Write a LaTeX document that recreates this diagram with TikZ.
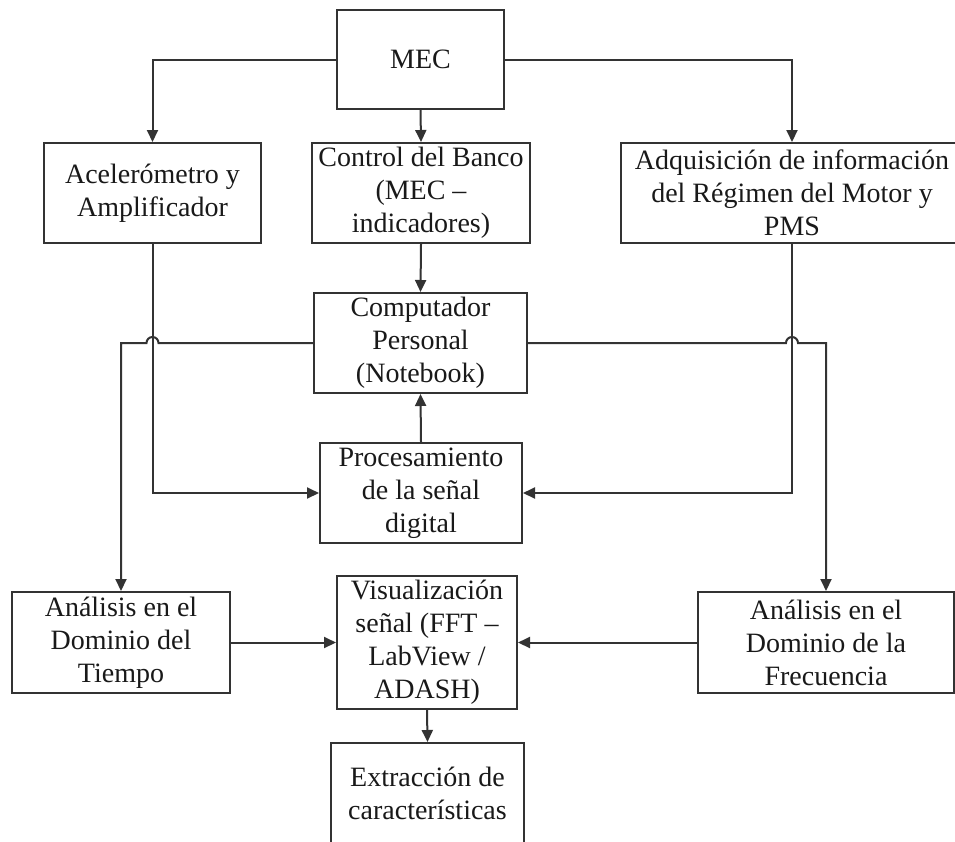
\documentclass[tikz,border=0pt]{standalone}
\usepackage{fontspec}
\setmainfont{Liberation Serif}
\usetikzlibrary{arrows.meta}
\definecolor{ln}{gray}{0.2}
\tikzset{
  box/.style={draw=ln, line width=2pt, rectangle, inner sep=0pt, align=center,
    font=\fontsize{28}{33}\selectfont, text=black!90},
  conn/.style={draw=ln, line width=2pt},
  arr/.style={conn, -{Triangle[length=12pt,width=11pt]}},
}
\begin{document}
\begin{tikzpicture}[x=1pt,y=1pt]
\useasboundingbox (0,0) rectangle (955,-841);
\clip (0,0) rectangle (955,-841);
\fill[white] (0,0) rectangle (955,-841);

\node[box, minimum width=167pt, minimum height=99pt] (mec) at (420.5,-59.5) {MEC};
\node[box, minimum width=217pt, minimum height=100pt] (acc) at (152.5,-193) {Acelerómetro y\\Amplificador};
\node[box, minimum width=218pt, minimum height=100pt] (ctrl) at (421,-193) {Control del Banco\\(MEC –\\indicadores)};
\node[box, minimum width=342pt, minimum height=100pt] (adq) at (792,-193) {Adquisición de información\\del Régimen del Motor y\\PMS};
\node[box, minimum width=213pt, minimum height=100pt] (comp) at (420.5,-343) {Computador\\Personal\\(Notebook)};
\node[box, minimum width=202pt, minimum height=100pt] (proc) at (421,-493) {Procesamiento\\de la señal\\digital};
\node[box, minimum width=218pt, minimum height=101pt] (tiempo) at (121,-642.5) {Análisis en el\\Dominio del\\Tiempo};
\node[box, minimum width=180pt, minimum height=133pt] (visu) at (427,-642.5) {Visualización\\señal (FFT –\\LabView /\\ADASH)};
\node[box, minimum width=256pt, minimum height=101pt] (frec) at (826,-642.5) {Análisis en el\\Dominio de la\\Frecuencia};
\node[box, minimum width=193pt, minimum height=100pt] (extr) at (427.5,-793) {Extracción de\\características};

\draw[arr] (mec.west) -| (acc.north);
\draw[arr] (mec.south) -- (ctrl.north);
\draw[arr] (mec.east) -| (adq.north);
\draw[arr] (ctrl.south) -- (comp.north);
\draw[arr] (proc.north) -- (comp.south);
\draw[arr] (acc.south) |- (proc.west);
\draw[arr] (adq.south) |- (proc.east);
\draw[arr] (comp.west) -- ([xshift=6pt]acc.south |- comp.west)
  arc[start angle=0, end angle=180, radius=6pt] -- (tiempo.north |- comp.west) -- (tiempo.north);
\draw[arr] (comp.east) -- ([xshift=-6pt]adq.south |- comp.east)
  arc[start angle=180, end angle=0, radius=6pt] -- (frec.north |- comp.east) -- (frec.north);
\draw[arr] (tiempo.east) -- (visu.west);
\draw[arr] (frec.west) -- (visu.east);
\draw[arr] (visu.south) -- (extr.north);
\end{tikzpicture}
\end{document}
